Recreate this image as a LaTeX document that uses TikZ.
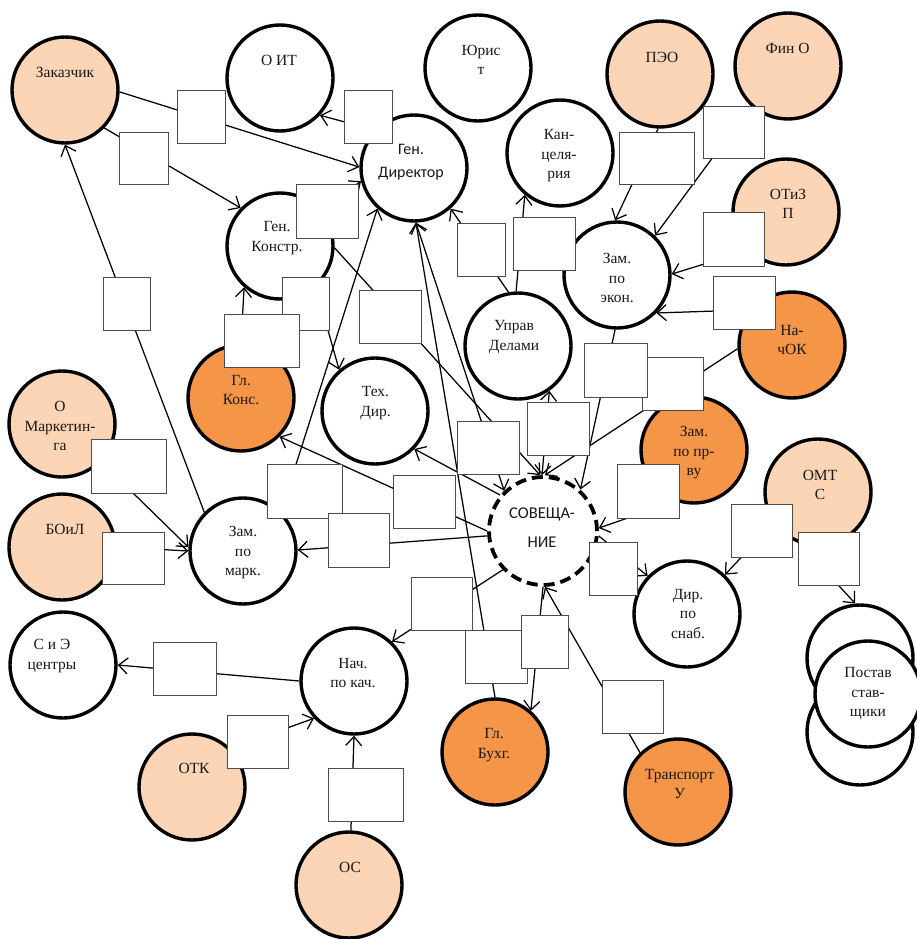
\documentclass[tikz,border=0pt]{standalone}
\usepackage{fontspec}
\setmainfont{Liberation Serif}
\newfontfamily\calib{Carlito}
\usetikzlibrary{arrows.meta}
\definecolor{peach}{HTML}{FBD5B5}
\definecolor{orng}{HTML}{F59547}
\tikzset{
  circ/.style={circle, draw=black, line width=3.4pt, minimum size=106pt, inner sep=0pt, fill=white},
  pch/.style={circ, fill=peach},
  org/.style={circ, fill=orng},
  meet/.style={circle, draw=black, line width=3.8pt, dash pattern=on 11pt off 6pt, minimum size=108pt, inner sep=0pt, fill=white},
  bx/.style 2 args={rectangle, draw=black!70, line width=0.9pt, fill=white, inner sep=0pt, minimum width=#1pt, minimum height=#2pt},
  con/.style={line width=1.25pt, -{Straight Barb[length=9pt,width=16pt,line width=1.25pt]}},
  bicon/.style={line width=1.25pt, {Straight Barb[length=9pt,width=16pt,line width=1.25pt]}-{Straight Barb[length=9pt,width=16pt,line width=1.25pt]}},
  lbl/.style={font=\fontsize{15.5}{19.5}\selectfont, align=center, inner sep=0pt, text=black!90},
  slbl/.style={font=\calib\fontsize{16}{23}\selectfont, align=center, inner sep=0pt, text=black!90},
}
\begin{document}
\begin{tikzpicture}[x=1pt,y=-1pt]
\useasboundingbox (0,0) rectangle (917,939);
% circles
\node[pch] (zak) at (65,90) {};
\node[circ] (oit) at (280,78) {};
\node[circ] (gdir) at (414,168) {};
\node[circ] (jur) at (478,68) {};
\node[circ] (kanc) at (560,153) {};
\node[pch] (peo) at (660,74) {};
\node[pch] (fin) at (788,66) {};
\node[pch] (otiz) at (786,212) {};
\node[circ] (zekon) at (617,275) {};
\node[circ] (gkon) at (280,246) {};
\node[circ] (uprd) at (518,346) {};
\node[org] (nachok) at (792,345) {};
\node[org] (glkons) at (241,398) {};
\node[circ] (tehd) at (375,411) {};
\node[pch] (omark) at (62,424) {};
\node[org] (zpr) at (694,450) {};
\node[pch] (boil) at (62,547) {};
\node[circ] (zmark) at (243,551) {};
\node[meet] (sov) at (543,531) {};
\node[pch] (omts) at (818,492) {};
\node[circ] (dsnab) at (687,614) {};
\node[circ] (posta) at (860,658) {};
\node[circ] (postb) at (860,732) {};
\node[circ] (post) at (868,694) {};
\node[circ] (sie) at (63,665) {};
\node[circ] (nkach) at (354,681) {};
\node[pch] (otk) at (192,787) {};
\node[pch] (os) at (349,885) {};
\node[org] (buh) at (495,752) {};
\node[org] (trans) at (678,792) {};
% connectors
\draw[con] (zak.-2) -- (gdir.179);
\draw[con] (zak.316) -- (gkon.136);
\draw[con] (gdir.136) -- (oit.317);
\draw[con] (gkon.40) -- (gdir.194);
\draw[con] (zmark.135) -- (zak.270);
\draw[con] (gkon.311) -- (tehd.131);
\draw[con] (glkons.90) -- (gkon.229);
\draw[con] (gkon.358) -- (sov.93);
\draw[con] (zmark.46) -- (gdir.228);
\draw[con] (sov.180) -- (glkons.315);
\draw[con] (sov.140) -- (tehd.316);
\draw[con] (sov.185) -- (zmark.1);
\draw[con] (omark.316) -- (zmark.176);
\draw[con] (boil.0) -- (zmark.180);
\draw[con] (buh.90) -- (gdir.272);
\draw[bicon] (gdir.272) -- (sov.134);
\draw[bicon] (uprd.305) -- (sov.91);
\draw[con] (nachok.184) -- (sov.88);
\draw[con] (zekon.268) -- (sov.48);
\draw[con] (zpr.250) -- (sov.3);
\draw[con] (sov.355) -- (dsnab.136);
\draw[con] (omts.215) -- (dsnab.46);
\draw[con] (omts.251) -- (posta.95);
\draw[con] (trans.134) -- (sov.272);
\draw[con] (sov.270) -- (buh.49);
\draw[con] (sov.224) -- (nkach.46);
\draw[con] (nkach.180) -- (sie.0);
\draw[con] (otk.45) -- (nkach.223);
\draw[con] (os.88) -- (nkach.270);
\draw[con] (uprd.92) -- (kanc.230);
\draw[con] (uprd.100) -- (gdir.312);
\draw[con] (nachok.140) -- (zekon.316);
\draw[con] (otiz.225) -- (zekon.1);
\draw[con] (fin.227) -- (zekon.46);
\draw[con] (peo.268) -- (zekon.92);
% label boxes
\node[bx={48}{53}] (bzg) at (201,116.5) {};
\node[bx={49}{52}] (bzk) at (143.5,158) {};
\node[bx={48}{53}] (bgo) at (368,116.5) {};
\node[bx={62}{54}] (bkg) at (327,211) {};
\node[bx={47}{53}] (bmz) at (126.5,303.5) {};
\node[bx={47}{53}] (bkt) at (305.5,303.5) {};
\node[bx={75}{53}] (bck) at (261.5,340.5) {};
\node[bx={62}{53}] (bks) at (390,316.5) {};
\node[bx={75}{54}] (bmg) at (304.5,491) {};
\node[bx={62}{53}] (bsc) at (424,501.5) {};
\node[bx={61}{54}] (bsm) at (358.5,540) {};
\node[bx={75}{54}] (bom) at (128.5,466) {};
\node[bx={62}{52}] (bbm) at (133,558) {};
\node[bx={62}{53}] (bbg) at (496,656.5) {};
\node[bx={62}{53}] (bgs) at (488,447.5) {};
\node[bx={62}{53}] (bus) at (558,428.5) {};
\node[bx={61}{53}] (bns) at (672.5,383.5) {};
\node[bx={63}{54}] (bes) at (615.5,370) {};
\node[bx={62}{54}] (bps) at (648,491) {};
\node[bx={48}{53}] (bsd) at (613,568.5) {};
\node[bx={61}{53}] (bod) at (761.5,530.5) {};
\node[bx={61}{53}] (bop) at (828.5,558.5) {};
\node[bx={61}{53}] (bts) at (632.5,706.5) {};
\node[bx={47}{53}] (bsb) at (544.5,641.5) {};
\node[bx={61}{53}] (bsn) at (441.5,603.5) {};
\node[bx={63}{53}] (bne) at (184.5,668.5) {};
\node[bx={61}{53}] (btn) at (257.5,741.5) {};
\node[bx={75}{53}] (bon) at (365.5,794.5) {};
\node[bx={62}{53}] (buk) at (544,243.5) {};
\node[bx={48}{53}] (bug) at (481,249.5) {};
\node[bx={62}{53}] (bje) at (744,302.5) {};
\node[bx={61}{54}] (boe) at (733.5,239) {};
\node[bx={61}{52}] (bfe) at (733.5,132) {};
\node[bx={75}{52}] (bpe) at (656.5,158) {};
% texts
\node[lbl] (zak-t) at (65,72) {Заказчик};
\node[lbl] (oit-t) at (279,60) {О ИТ};
\node[slbl] (gdir-t) at (411,162) {Ген.\\Директор};
\node[lbl] (jur-t) at (481,60) {Юрис\\т};
\node[lbl] (kanc-t) at (559,156) {Кан-\\целя-\\рия};
\node[lbl] (peo-t) at (662,57) {ПЭО};
\node[lbl] (fin-t) at (787.5,48) {Фин О};
\node[lbl] (otiz-t) at (788,204) {ОТиЗ\\П};
\node[lbl] (zekon-t) at (617,278) {Зам.\\по\\экон.};
\node[lbl] (gkon-t) at (277,238) {Ген.\\Констр.};
\node[lbl] (uprd-t) at (514,337) {Управ\\Делами};
\node[lbl] (nachok-t) at (792,340) {На-\\чОК};
\node[lbl] (glkons-t) at (241,390) {Гл.\\Конс.};
\node[lbl] (tehd-t) at (375.5,403) {Тех.\\Дир.};
\node[lbl] (omark-t) at (60,426) {О\\Маркетин-\\га};
\node[lbl] (zpr-t) at (694,453) {Зам.\\по пр-\\ву};
\node[lbl] (boil-t) at (65,529) {БОиЛ};
\node[lbl] (zmark-t) at (243,553) {Зам.\\по\\марк.};
\node[slbl, font=\calib\fontsize{16.5}{29}\selectfont] (sov-t) at (542,528) {СОВЕЩА-\\НИЕ};
\node[lbl] (omts-t) at (820,485) {ОМТ\\С};
\node[lbl] (dsnab-t) at (688,614) {Дир.\\по\\снаб.};
\node[lbl] (post-t) at (868,694) {Постав\\став-\\щики};
\node[lbl] (sie-t) at (52,656) {С и Э\\центры};
\node[lbl] (nkach-t) at (353,673) {Нач.\\по кач.};
\node[lbl] (otk-t) at (194,768) {ОТК};
\node[lbl] (os-t) at (350,867) {ОС};
\node[lbl] (buh-t) at (494,745) {Гл.\\Бухг.};
\node[lbl, font=\fontsize{15.5}{18.5}\selectfont] (trans-t) at (679.5,784) {Транспорт\\У};
\end{tikzpicture}
\end{document}
